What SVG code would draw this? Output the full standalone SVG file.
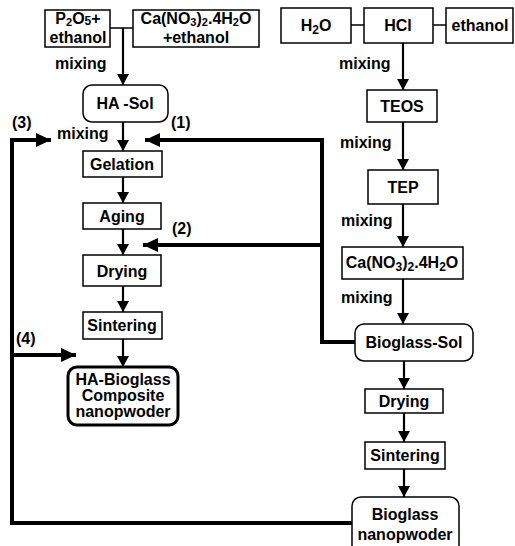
<svg xmlns="http://www.w3.org/2000/svg" width="515" height="546" viewBox="0 0 515 546">
<style>
text{font-family:"Liberation Sans",Arial,sans-serif;font-weight:bold;font-size:16px;fill:#000}
.c{text-anchor:middle}
.box{fill:#fff;stroke:#000;stroke-width:1.5}
.thin{fill:none;stroke:#000;stroke-width:1.5}
.arr{fill:none;stroke:#000;stroke-width:2.2}
.thick{fill:none;stroke:#000;stroke-width:4}
</style>
<defs>
<marker id="ah" markerUnits="userSpaceOnUse" markerWidth="12" markerHeight="12" refX="11" refY="6" orient="auto"><path d="M0,0 L11,6 L0,12 z" fill="#000"/></marker>
<marker id="ahb" markerUnits="userSpaceOnUse" markerWidth="16" markerHeight="16" refX="15" refY="8" orient="auto"><path d="M0,1 L15,8 L0,15 z" fill="#000"/></marker>
</defs>
<rect width="515" height="546" fill="#fff"/>
<g id="connectors">
<path class="thin" d="M110,28 H133"/>
<path class="thin" d="M351,25 H364 M433,25 H446"/>
<path class="arr" marker-end="url(#ah)" d="M123,28 V85"/>
<path class="arr" marker-end="url(#ah)" d="M123,122 V151"/>
<path class="arr" marker-end="url(#ah)" d="M123,177 V203"/>
<path class="arr" marker-end="url(#ah)" d="M123,229 V255"/>
<path class="arr" marker-end="url(#ah)" d="M123,286 V312"/>
<path class="arr" marker-end="url(#ah)" d="M123,339 V367"/>
<path class="arr" marker-end="url(#ah)" d="M403,43 V90"/>
<path class="arr" marker-end="url(#ah)" d="M403,122 V170"/>
<path class="arr" marker-end="url(#ah)" d="M403,204 V247"/>
<path class="arr" marker-end="url(#ah)" d="M403,279 V324"/>
<path class="arr" marker-end="url(#ah)" d="M404,361 V389"/>
<path class="arr" marker-end="url(#ah)" d="M404,413 V442"/>
<path class="arr" marker-end="url(#ah)" d="M404,469 V497"/>
<path class="thick" marker-end="url(#ahb)" d="M355,342 H322 V140 H145"/>
<path class="thick" marker-end="url(#ahb)" d="M322,245 H143"/>
<path class="thick" marker-end="url(#ahb)" d="M352,523 H12 V140 H51"/>
<path class="thick" marker-end="url(#ahb)" d="M12,355 H76"/>
<text x="55" y="69">mixing</text>
<text x="57" y="139">mixing</text>
<text x="339" y="69">mixing</text>
<text x="340" y="148">mixing</text>
<text x="341" y="226">mixing</text>
<text x="341" y="303">mixing</text>
<text x="12" y="128">(3)</text>
<text x="171" y="128">(1)</text>
<text x="172" y="234">(2)</text>
<text x="16" y="344">(4)</text>
</g>
<g id="p2o5">
<rect class="box" x="45" y="10" width="65" height="37"/>
<text class="c" x="78" y="24">P<tspan font-size="11" dy="2">2</tspan><tspan dy="-2">O</tspan><tspan font-size="12" dy="1">5</tspan><tspan dy="-1">+</tspan></text>
<text class="c" x="78" y="43">ethanol</text>
</g>
<g id="canitrate1">
<rect class="box" x="133" y="10" width="126" height="37"/>
<text class="c" x="196" y="24">Ca(NO<tspan font-size="11" dy="2">3</tspan><tspan dy="-2">)</tspan><tspan font-size="11" dy="2">2</tspan><tspan dy="-2">.4H</tspan><tspan font-size="11" dy="2">2</tspan><tspan dy="-2">O</tspan></text>
<text class="c" x="196" y="43">+ethanol</text>
</g>
<g id="hasol">
<rect class="box" x="83" y="85" width="85" height="37" rx="9"/>
<text class="c" x="125" y="109">HA -Sol</text>
</g>
<g id="gelation">
<rect class="box" x="83" y="151" width="79" height="26"/>
<text class="c" x="122" y="170">Gelation</text>
</g>
<g id="aging">
<rect class="box" x="83" y="203" width="78" height="26"/>
<text class="c" x="122" y="222">Aging</text>
</g>
<g id="drying1">
<rect class="box" x="83" y="255" width="78" height="31"/>
<text class="c" x="122" y="277">Drying</text>
</g>
<g id="sintering1">
<rect class="box" x="83" y="312" width="79" height="27"/>
<text class="c" x="122" y="331">Sintering</text>
</g>
<g id="composite">
<rect x="68" y="367" width="110" height="58" rx="9" fill="#fff" stroke="#000" stroke-width="3"/>
<text class="c" x="123" y="385">HA-Bioglass</text>
<text class="c" x="123" y="401">Composite</text>
<text class="c" x="123" y="417">nanopwoder</text>
</g>
<g id="h2o">
<rect class="box" x="281" y="8" width="70" height="35"/>
<text class="c" x="316" y="31">H<tspan font-size="12" dy="3">2</tspan><tspan dy="-3">O</tspan></text>
</g>
<g id="hcl">
<rect class="box" x="364" y="8" width="69" height="35"/>
<text class="c" x="398" y="31">HCl</text>
</g>
<g id="ethanol">
<rect class="box" x="446" y="8" width="67" height="35"/>
<text class="c" x="480" y="31">ethanol</text>
</g>
<g id="teos">
<rect class="box" x="367" y="90" width="70" height="32"/>
<text class="c" x="402" y="112">TEOS</text>
</g>
<g id="tep">
<rect class="box" x="368" y="170" width="70" height="34"/>
<text class="c" x="403" y="193">TEP</text>
</g>
<g id="canitrate2">
<rect class="box" x="342" y="247" width="121" height="32"/>
<text class="c" x="402" y="268">Ca(NO<tspan font-size="12" dy="3">3</tspan><tspan dy="-3">)</tspan><tspan font-size="12" dy="3">2</tspan><tspan dy="-3">.4H</tspan><tspan font-size="12" dy="3">2</tspan><tspan dy="-3">O</tspan></text>
</g>
<g id="bioglasssol">
<rect class="box" x="355" y="324" width="118" height="37" rx="9"/>
<text class="c" x="414" y="348">Bioglass-Sol</text>
</g>
<g id="drying2">
<rect class="box" x="365" y="389" width="78" height="24"/>
<text class="c" x="404" y="407">Drying</text>
</g>
<g id="sintering2">
<rect class="box" x="365" y="442" width="80" height="27"/>
<text class="c" x="405" y="461">Sintering</text>
</g>
<g id="bioglasspowder">
<rect class="box" x="352" y="497" width="107" height="60" rx="9"/>
<text class="c" x="405" y="520">Bioglass</text>
<text class="c" x="405" y="540">nanopwoder</text>
</g>
</svg>
